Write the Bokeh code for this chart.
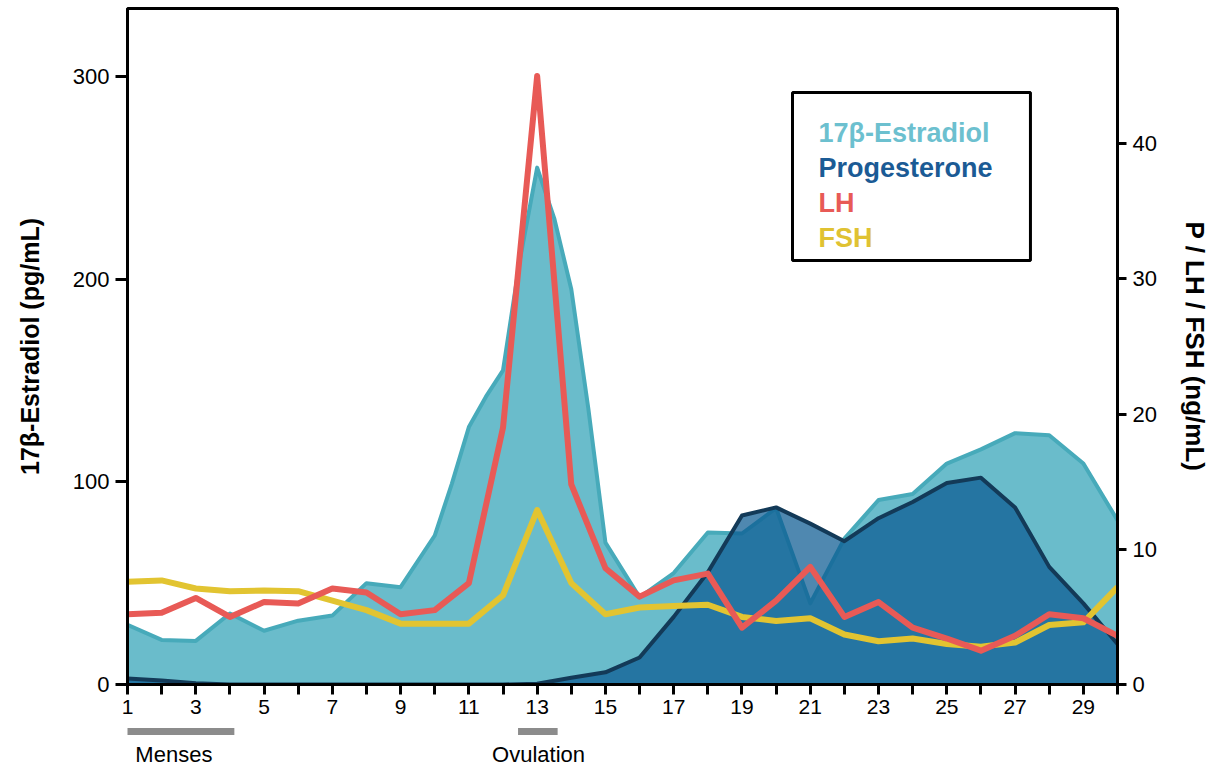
from bokeh.plotting import figure
from bokeh.models import Range1d, LinearAxis, FixedTicker, Label, BoxAnnotation
from bokeh.layouts import column
from bokeh.core.properties import value
from bokeh.embed import file_html
from bokeh.resources import INLINE

# ---------------- data ----------------
days = list(range(1, 31))
e2_days = [1, 2, 3, 4, 5, 6, 7, 8, 9, 10, 10.5, 11, 11.5, 12, 12.5, 13, 13.5, 14, 14.5,
           15, 16, 17, 18, 19, 20, 21, 22, 23, 24, 25, 26, 27, 28, 29, 30]
estradiol = [29.5, 22, 21.5, 35, 26.5, 31.5, 34, 50, 48, 73.5, 99, 127, 142, 155, 210,
             255, 230, 195, 136, 70, 43, 55, 75, 74.5, 87, 40, 72, 91, 94, 109, 116, 124,
             123, 109, 81]
progesterone = [0.45, 0.3, 0.1, 0.0, 0.0, 0.0, 0.0, 0.0, 0.0, 0.0, 0.0, 0.0, 0.05, 0.5,
                0.9, 2.0, 5.0, 8.3, 12.5, 13.1, 11.9, 10.6, 12.3, 13.5, 14.9, 15.3, 13.1,
                8.7, 6.0, 3.0]
lh = [5.2, 5.3, 6.4, 5.0, 6.1, 6.0, 7.1, 6.8, 5.2, 5.5, 7.5, 19.0, 45.0, 14.8, 8.6, 6.5,
      7.7, 8.2, 4.2, 6.2, 8.7, 5.0, 6.1, 4.2, 3.4, 2.5, 3.6, 5.2, 4.9, 3.6]
fsh = [7.6, 7.7, 7.1, 6.9, 6.95, 6.9, 6.2, 5.5, 4.5, 4.5, 4.5, 6.6, 12.9, 7.5, 5.2, 5.7,
       5.8, 5.9, 5.0, 4.7, 4.9, 3.7, 3.2, 3.4, 3.0, 2.8, 3.1, 4.4, 4.6, 7.2]

phase_names = ["Menses", "Ovulation"]
phase_start = [0.87, 12.44]
phase_end = [4.13, 13.6]
phase_label_x = [1.23, 11.68]

left_ticks = [0, 100, 200, 300]
right_ticks = [0, 10, 20, 30, 40]
legend_names = ["17β-Estradiol", "Progesterone", "LH", "FSH"]
legend_colors = ["#6cc0cf", "#1b5b95", "#e85a56", "#e0c232"]

# ---------------- main figure ----------------
FONT = "Liberation Sans"
p = figure(width=1214, height=725, output_backend="svg", toolbar_location=None,
           x_range=Range1d(1, 30), y_range=Range1d(0, 333.5),
           min_border_left=127, min_border_right=97, min_border_top=8,
           min_border_bottom=41)
p.extra_y_ranges = {"ng": Range1d(0, 50)}
p.grid.visible = False
p.outline_line_color = "black"
p.outline_line_width = 3
p.background_fill_color = "white"
p.border_fill_color = "white"

def style_axis(ax, size="22px"):
    ax.axis_line_width = 3
    ax.axis_line_color = "black"
    ax.major_tick_line_width = 3
    ax.major_tick_line_color = "black"
    ax.major_tick_out = 12
    ax.major_tick_in = 0
    ax.minor_tick_line_color = None
    ax.major_label_text_font = FONT
    ax.major_label_text_font_size = size
    ax.major_label_text_color = "black"
    ax.major_label_standoff = 6
    ax.axis_label_text_font = FONT
    ax.axis_label_text_font_style = "bold"
    ax.axis_label_text_color = "black"

xa = p.xaxis[0]
xa.ticker = FixedTicker(ticks=days)
xa.major_label_overrides = {d: "" for d in days if d % 2 == 0}
style_axis(xa, "21px")
xa.major_tick_out = 10
xa.major_label_standoff = 5

ya = p.yaxis[0]
ya.ticker = FixedTicker(ticks=left_ticks)
style_axis(ya)
ya.axis_label = "17β-Estradiol (pg/mL)"
ya.axis_label_text_font_size = "25px"
ya.axis_label_standoff = 26

ra = LinearAxis(y_range_name="ng", ticker=FixedTicker(ticks=right_ticks))
style_axis(ra)
ra.major_tick_out = 9
ra.axis_label = "P / LH / FSH (ng/mL)"
ra.axis_label_text_font_size = "26px"
ra.axis_label_standoff = 20
p.add_layout(ra, "right")

# ---------------- glyphs ----------------
p.varea(x=e2_days, y1=[0] * len(e2_days), y2=estradiol, fill_color="#6abccb")
p.line(x=e2_days, y=estradiol, line_color="#47aaba", line_width=4, line_join="round")

p.varea(x=days, y1=[0] * len(days), y2=progesterone, fill_color="#0b5a92",
        fill_alpha=0.72, y_range_name="ng")
p.line(x=days, y=progesterone, line_color="#133a58", line_width=4, line_join="round",
       y_range_name="ng")

p.line(x=days, y=fsh, line_color="#e2c431", line_width=6, line_join="round",
       y_range_name="ng")
p.line(x=days, y=lh, line_color="#e85a56", line_width=6, line_join="round",
       y_range_name="ng")

# ---------------- legend box ----------------
p.add_layout(BoxAnnotation(left=20.48, right=27.45, top=292.1, bottom=209.2,
                           fill_color="white", fill_alpha=1.0,
                           line_color="black", line_alpha=1.0, line_width=3))
legend_y = [271.9, 254.6, 237.3, 220.1]
for name, col, yy in zip(legend_names, legend_colors, legend_y):
    p.add_layout(Label(x=21.24, y=yy, text=name, text_color=col,
                       text_font=FONT, text_font_style="bold",
                       text_font_size="27px", text_align="left",
                       text_baseline="alphabetic"))

# ---------------- phase strip below the axis (same day scale) ----------------
p2 = figure(width=1214, height=42, output_backend="svg", toolbar_location=None,
            x_range=p.x_range, y_range=Range1d(-40.95, -20.23),
            x_axis_location=None, y_axis_location=None,
            min_border_left=127, min_border_right=97, min_border_top=0,
            min_border_bottom=0)
p2.grid.visible = False
p2.outline_line_color = None
p2.background_fill_color = "white"
p2.border_fill_color = "white"
p2.segment(x0=phase_start, y0=[-23.2] * 2, x1=phase_end, y1=[-23.2] * 2,
           line_color="#8c8c8c", line_width=7, line_cap="butt")
p2.text(x=phase_label_x, y=[-34.6] * 2, text=phase_names, text_color="black",
        text_font=value(FONT), text_font_size="22px", text_align="left",
        text_baseline="middle")

layout = column(p, p2, spacing=0)
open("out.html", "w").write(file_html(layout, INLINE))
